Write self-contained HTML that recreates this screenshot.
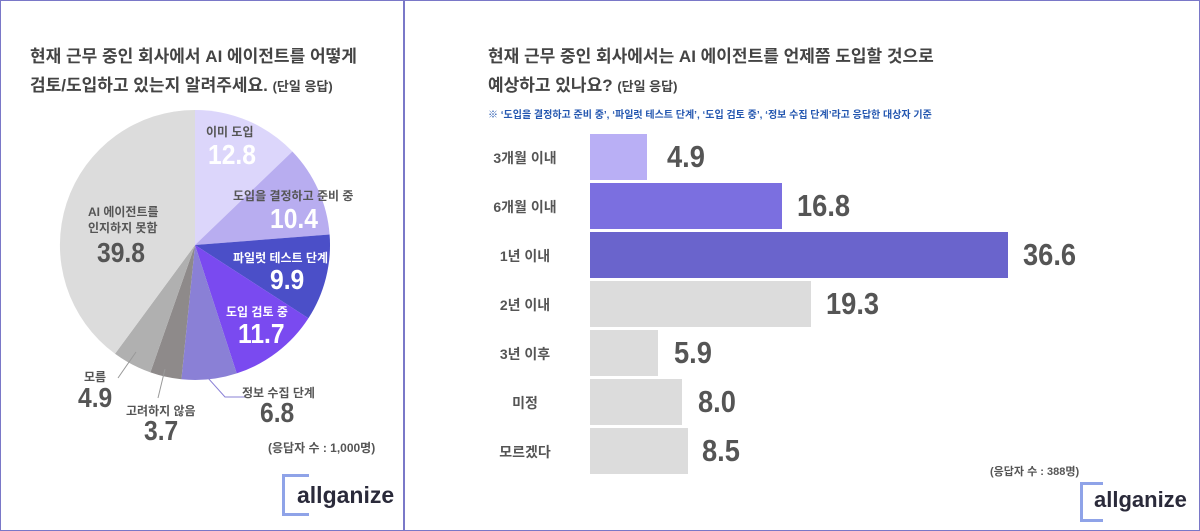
<!DOCTYPE html>
<html><head><meta charset="utf-8"><style>
body{margin:0;width:1200px;height:531px;background:#fff;font-family:"Liberation Sans","Noto Sans CJK KR",sans-serif;position:relative;overflow:hidden}
.a{position:absolute;white-space:nowrap}
.t{font-weight:bold;color:#444;font-size:17px}
.lab{font-size:12px;color:#555;font-weight:bold}
.num{font-weight:bold;color:#555;font-size:28px;transform:scaleX(0.88);transform-origin:left top}
.bar{position:absolute;left:590px;height:46px}
.bl{position:absolute;left:480px;width:90px;text-align:center;font-size:14px;color:#555;font-weight:bold}
.bv{position:absolute;font-size:31px;font-weight:bold;color:#555;transform:scaleX(0.88);transform-origin:left top}
</style></head><body>
<div class="a" style="left:0;top:0;width:1198px;height:529px;border:1px solid #7a78c8"></div>
<div class="a" style="left:403px;top:0;width:2px;height:531px;background:#7a78c8"></div>

<div class="a t" style="left:30px;top:42px">현재 근무 중인 회사에서 AI 에이전트를 어떻게</div>
<div class="a t" style="left:30px;top:71px">검토/도입하고 있는지 알려주세요. <span style="font-size:13px">(단일 응답)</span></div>

<svg class="a" style="left:0;top:0" width="404" height="531">
<g transform="translate(195,245)">
<path d="M0,0 L0,-135 A135,135 0 0,1 97.4,-93.5Z" fill="#dcd6fb"/>
<path d="M0,0 L97.4,-93.5 A135,135 0 0,1 134.6,-10.5Z" fill="#b8adf0"/>
<path d="M0,0 L134.6,-10.5 A135,135 0 0,1 113.4,73.3Z" fill="#4b4fc8"/>
<path d="M0,0 L113.4,73.3 A135,135 0 0,1 41.7,128.4Z" fill="#7a4af0"/>
<path d="M0,0 L41.7,128.4 A135,135 0 0,1 -13.6,134.3Z" fill="#8a80d6"/>
<path d="M0,0 L-13.6,134.3 A135,135 0 0,1 -44.6,127.4Z" fill="#8e8a8a"/>
<path d="M0,0 L-44.6,127.4 A135,135 0 0,1 -80.0,108.8Z" fill="#b0b0b0"/>
<path d="M0,0 L-80.0,108.8 A135,135 0 0,1 0,-135Z" fill="#dcdcdc"/>
</g>
<polyline points="136,352 118,378" stroke="#999" fill="none"/>
<polyline points="165,369 158,398" stroke="#999" fill="none"/>
<polyline points="208,378 225,397 245,397" stroke="#8a80d6" fill="none"/>
</svg>

<div class="a lab" style="left:206px;top:123px">이미 도입</div>
<div class="a num" style="left:208px;top:139px;color:#fff">12.8</div>
<div class="a lab" style="left:233px;top:187px">도입을 결정하고 준비 중</div>
<div class="a num" style="left:270px;top:203px;color:#fff">10.4</div>
<div class="a lab" style="left:233px;top:249px;color:#fff">파일럿 테스트 단계</div>
<div class="a num" style="left:270px;top:264px;color:#fff">9.9</div>
<div class="a lab" style="left:226px;top:303px;color:#fff">도입 검토 중</div>
<div class="a num" style="left:238px;top:318px;color:#fff">11.7</div>
<div class="a lab" style="left:88px;top:203px">AI 에이전트를</div>
<div class="a lab" style="left:88px;top:219px">인지하지 못함</div>
<div class="a num" style="left:97px;top:237px">39.8</div>
<div class="a lab" style="left:84px;top:368px">모름</div>
<div class="a num" style="left:78px;top:382px">4.9</div>
<div class="a lab" style="left:126px;top:402px">고려하지 않음</div>
<div class="a num" style="left:144px;top:415px">3.7</div>
<div class="a lab" style="left:242px;top:384px">정보 수집 단계</div>
<div class="a num" style="left:260px;top:397px">6.8</div>
<div class="a" style="left:268px;top:439px;font-size:12px;color:#555;font-weight:bold">(응답자 수 : 1,000명)</div>
<div class="a" style="left:282px;top:474px;width:24px;height:36px;border:3px solid #8fa3e8;border-right:none"></div>
<div class="a" style="left:297px;top:482px;font-size:23px;font-weight:bold;color:#2a2a3a">allganize</div>

<div class="a t" style="left:488px;top:42px">현재 근무 중인 회사에서는 AI 에이전트를 언제쯤 도입할 것으로</div>
<div class="a t" style="left:488px;top:71px">예상하고 있나요? <span style="font-size:13px">(단일 응답)</span></div>
<div class="a" style="left:488px;top:106px;font-size:10px;color:#2457b0;font-weight:bold">※ ‘도입을 결정하고 준비 중’, ‘파일럿 테스트 단계’, ‘도입 검토 중’, ‘정보 수집 단계’라고 응답한 대상자 기준</div>

<div class="bar" style="top:134px;width:57px;background:#b9aff5"></div>
<div class="bar" style="top:183px;width:192px;background:#7b6fe0"></div>
<div class="bar" style="top:232px;width:418px;background:#6a64cc"></div>
<div class="bar" style="top:281px;width:221px;background:#dcdcdc"></div>
<div class="bar" style="top:330px;width:68px;background:#dcdcdc"></div>
<div class="bar" style="top:379px;width:92px;background:#dcdcdc"></div>
<div class="bar" style="top:428px;width:98px;background:#dcdcdc"></div>

<div class="bl" style="top:148px">3개월 이내</div>
<div class="bl" style="top:197px">6개월 이내</div>
<div class="bl" style="top:246px">1년 이내</div>
<div class="bl" style="top:295px">2년 이내</div>
<div class="bl" style="top:344px">3년 이후</div>
<div class="bl" style="top:393px">미정</div>
<div class="bl" style="top:442px">모르겠다</div>

<div class="bv" style="left:667px;top:139px">4.9</div>
<div class="bv" style="left:797px;top:188px">16.8</div>
<div class="bv" style="left:1023px;top:237px">36.6</div>
<div class="bv" style="left:826px;top:286px">19.3</div>
<div class="bv" style="left:674px;top:335px">5.9</div>
<div class="bv" style="left:698px;top:384px">8.0</div>
<div class="bv" style="left:702px;top:433px">8.5</div>

<div class="a" style="left:990px;top:463px;font-size:11px;color:#555;font-weight:bold">(응답자 수 : 388명)</div>
<div class="a" style="left:1080px;top:482px;width:20px;height:34px;border:3px solid #8fa3e8;border-right:none"></div>
<div class="a" style="left:1094px;top:487px;font-size:22px;font-weight:bold;color:#2a2a3a">allganize</div>
</body></html>
